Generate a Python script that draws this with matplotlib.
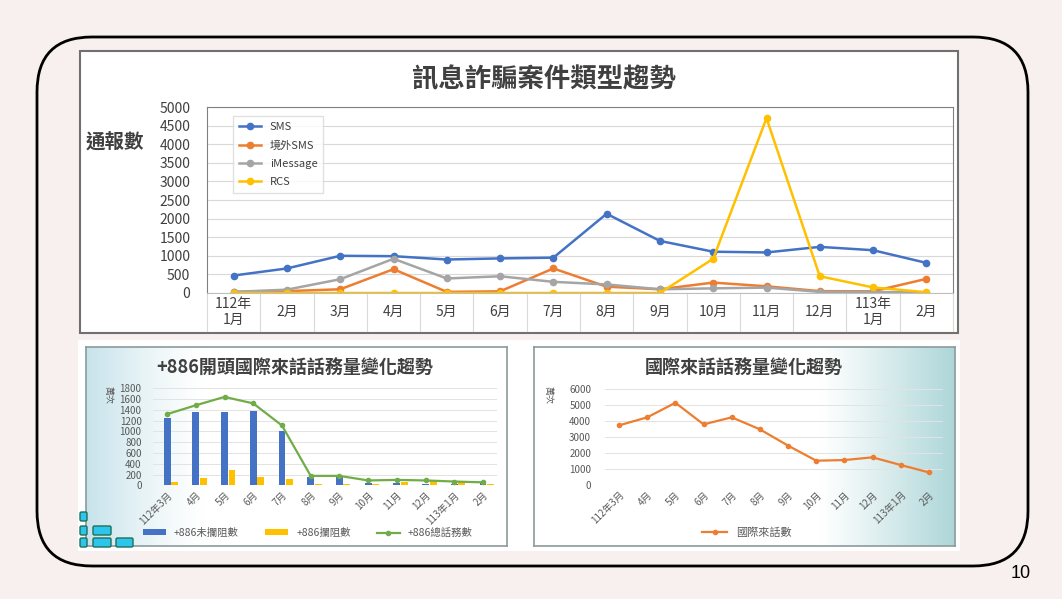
import numpy as np
import matplotlib
matplotlib.use("Agg")
import matplotlib.pyplot as plt
from matplotlib.patches import FancyBboxPatch, Rectangle

plt.rcParams['font.family'] = ['Noto Sans CJK TC', 'DejaVu Sans']

# data
months_top = ['112年\n1月', '2月', '3月', '4月', '5月', '6月', '7月', '8月', '9月',
              '10月', '11月', '12月', '113年\n1月', '2月']
sms = [470, 660, 1000, 990, 900, 930, 950, 2130, 1400, 1110, 1090, 1240, 1150, 810]
sms_overseas = [30, 50, 100, 640, 30, 45, 660, 170, 100, 280, 180, 50, 45, 380]
imessage = [30, 90, 370, 920, 390, 450, 300, 230, 100, 125, 145, 30, 30, 10]
rcs = [0, 0, 0, 0, 0, 0, 0, 0, 0, 920, 4700, 450, 150, 20]

months_bottom = ['112年3月', '4月', '5月', '6月', '7月', '8月', '9月', '10月', '11月',
                 '12月', '113年1月', '2月']
not_blocked = [1250, 1360, 1360, 1370, 1010, 150, 145, 50, 40, 25, 25, 35]
blocked = [60, 130, 285, 160, 110, 20, 20, 30, 65, 75, 65, 20]
total_886 = [1320, 1485, 1640, 1520, 1110, 175, 175, 90, 100, 90, 70, 55]
intl_calls = [3710, 4210, 5120, 3770, 4210, 3460, 2440, 1500, 1540, 1710, 1230, 770]

W, H = 1062, 599
fig = plt.figure(figsize=(W / 100, H / 100), dpi=100)
fig.patch.set_facecolor('#f8f0ee')


def px(x0, y0, x1, y1):
    return [x0 / W, 1 - y1 / H, (x1 - x0) / W, (y1 - y0) / H]


def overlay():
    a = fig.add_axes([0, 0, 1, 1])
    a.set_xlim(0, W)
    a.set_ylim(H, 0)
    a.axis('off')
    a.patch.set_alpha(0)
    return a


# slide background shapes
bg = overlay()
bg.add_patch(FancyBboxPatch((37, 37), 991, 529, boxstyle="round,pad=0,rounding_size=55",
                            facecolor='#f8f0ee', edgecolor='black', lw=2))
bg.add_patch(Rectangle((80, 51), 878, 282, facecolor='white', edgecolor='#707070', lw=1.5))
bg.add_patch(Rectangle((78, 340), 882, 211, facecolor='white', edgecolor='none'))
bg.text(1021, 573, '10', fontsize=13, family='Liberation Sans', ha='center', va='center')

# ---- top chart ----
bg.text(544, 80, '訊息詐騙案件類型趨勢', fontsize=19, fontweight='bold', color='#404040',
        ha='center', va='center')
bg.text(115, 143, '通報數', fontsize=14, fontweight='bold', color='#404040',
        ha='center', va='center')

ax1 = fig.add_axes(px(207, 107, 953, 293))
x1 = np.arange(len(months_top))
ax1.plot(x1, sms, color='#4472c4', lw=1.8, marker='o', ms=4.5, label='SMS')
ax1.plot(x1, sms_overseas, color='#ed7d31', lw=1.8, marker='o', ms=4.5, label='境外SMS')
ax1.plot(x1, imessage, color='#a5a5a5', lw=1.8, marker='o', ms=4.5, label='iMessage')
ax1.plot(x1, rcs, color='#ffc000', lw=1.8, marker='o', ms=4.5, label='RCS')
ax1.set_xlim(-0.5, len(months_top) - 0.5)
ax1.set_ylim(0, 5000)
ax1.set_yticks(range(0, 5001, 500))
ax1.tick_params(axis='y', length=0, labelsize=10, labelcolor='#404040', pad=12)
ax1.set_xticks([])
ax1.grid(axis='y', color='#d9d9d9', lw=0.8)
ax1.set_axisbelow(True)
for s in ['top', 'right', 'left']:
    ax1.spines[s].set_color('#808080')
ax1.spines['bottom'].set_color('#bfbfbf')
tr = ax1.get_xaxis_transform()
for i, lab in enumerate(months_top):
    ax1.text(i, -0.102, lab, transform=tr, ha='center', va='center', fontsize=10,
             color='#404040', linespacing=1.1)
for i in range(len(months_top) + 1):
    ax1.plot([i - 0.5, i - 0.5], [0, -0.204], transform=tr, color='#d9d9d9', lw=0.8,
             clip_on=False)
leg = ax1.legend(loc='upper left', bbox_to_anchor=(0.035, 0.95), borderaxespad=0,
                 fontsize=8, frameon=True, fancybox=False, edgecolor='#d9d9d9',
                 handlelength=2, labelspacing=0.75, borderpad=0.5)
for t in leg.get_texts():
    t.set_color('#404040')

# ---- bottom chart backgrounds ----
grad = np.linspace(0, 1, 300)

axb1 = fig.add_axes(px(86, 347, 507, 546))
t = np.clip(1 - grad / 0.28, 0, 1) ** 1.3
c0 = np.array([0.78, 0.89, 0.92])
img = (1 - t)[:, None] * np.ones(3) + t[:, None] * c0
axb1.imshow(img[None, :, :], aspect='auto', extent=[0, 1, 0, 1])

axb2 = fig.add_axes(px(534, 347, 955, 546))
t2 = np.clip((grad - 0.68) / 0.32, 0, 1) ** 1.1
c1 = np.array([0.68, 0.84, 0.85])
img2 = (1 - t2)[:, None] * np.ones(3) + t2[:, None] * c1
axb2.imshow(img2[None, :, :], aspect='auto', extent=[0, 1, 0, 1])

for a in (axb1, axb2):
    a.set_xticks([])
    a.set_yticks([])
    for s in a.spines.values():
        s.set_color('#8c9a9a')
        s.set_linewidth(1.2)

bg2 = overlay()
bg2.text(295, 367, '+886開頭國際來話話務量變化趨勢', fontsize=13, fontweight='bold',
         color='#404040', ha='center', va='center')
bg2.text(744, 367, '國際來話話務量變化趨勢', fontsize=13, fontweight='bold',
         color='#404040', ha='center', va='center')

# ---- bottom left chart ----
ax2 = fig.add_axes(px(152.7, 388.3, 497.4, 485.3))
ax2.patch.set_alpha(0)
x2 = np.arange(len(months_bottom))
b1 = ax2.bar(x2, not_blocked, width=0.24, color='#4472c4', label='+886未攔阻數', zorder=2)
b2 = ax2.bar(x2 + 0.26, blocked, width=0.24, color='#ffc000', label='+886攔阻數', zorder=2)
l1, = ax2.plot(x2, total_886, color='#70ad47', lw=1.6, marker='o', ms=3,
               label='+886總話務數', zorder=3)
ax2.set_xlim(-0.5, len(months_bottom) - 0.5)
ax2.set_ylim(0, 1800)
ax2.set_yticks(range(0, 1801, 200))
ax2.set_xticks(x2)
ax2.set_xticklabels(months_bottom, rotation=45, ha='right', rotation_mode='anchor')
ax2.tick_params(axis='both', length=0, labelsize=7, labelcolor='#595959')
ax2.tick_params(axis='y', pad=8)
ax2.grid(axis='y', color='#e3e3e3', lw=0.7)
ax2.set_axisbelow(True)
for s in ax2.spines.values():
    s.set_visible(False)
ax2.text(-0.13, 0.93, '萬次', transform=ax2.transAxes, rotation=270, fontsize=6.5,
         color='#595959', ha='center', va='center')
ax2.legend(handles=[b1, b2, l1], loc='center', bbox_to_anchor=(0.45, -0.49), ncol=3,
           fontsize=7.5, frameon=False, handlelength=2.2, handleheight=0.5,
           columnspacing=2.5, labelcolor='#595959')

# ---- bottom right chart ----
ax3 = fig.add_axes(px(605, 388.7, 943, 484.7))
ax3.patch.set_alpha(0)
ax3.plot(x2, intl_calls, color='#ed7d31', lw=1.6, marker='o', ms=3, label='國際來話數')
ax3.set_xlim(-0.5, len(months_bottom) - 0.5)
ax3.set_ylim(0, 6000)
ax3.set_yticks(range(0, 6001, 1000))
ax3.set_xticks(x2)
ax3.set_xticklabels(months_bottom, rotation=45, ha='right', rotation_mode='anchor')
ax3.tick_params(axis='both', length=0, labelsize=7, labelcolor='#595959')
ax3.tick_params(axis='y', pad=10)
ax3.grid(axis='y', color='#e3e3e3', lw=0.7)
ax3.set_axisbelow(True)
for s in ax3.spines.values():
    s.set_visible(False)
ax3.text(-0.17, 0.93, '萬次', transform=ax3.transAxes, rotation=270, fontsize=6.5,
         color='#595959', ha='center', va='center')
ax3.legend(loc='center', bbox_to_anchor=(0.42, -0.5), fontsize=8, frameon=False,
           handlelength=2.2, labelcolor='#595959')

# decorative squares
top = overlay()
squares = [(80, 512, 7), (80, 526, 7), (93, 526, 18), (80, 538, 7), (93, 538, 18),
           (116, 538, 17)]
for sx, sy, sw in squares:
    top.add_patch(FancyBboxPatch((sx, sy), sw, 9, boxstyle="round,pad=0,rounding_size=1.5",
                                 facecolor='#2cc6ec', edgecolor='#1f6f58', lw=1))

fig.savefig('out.png', dpi=100, facecolor=fig.get_facecolor())
